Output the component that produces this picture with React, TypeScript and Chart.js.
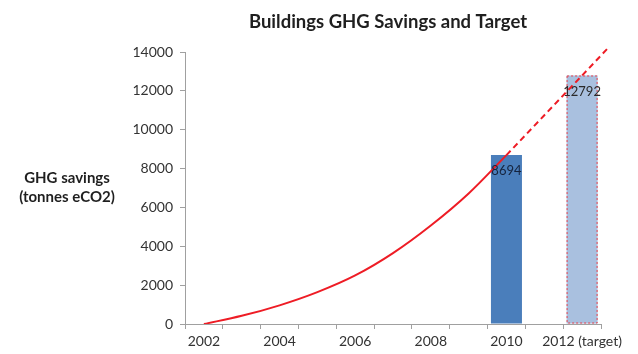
import React, { useEffect, useRef } from 'react';
import { Chart, registerables } from 'chart.js';

Chart.register(...registerables);

const categories = ['2002', '2003', '2004', '2005', '2006', '2007', '2008', '2009', '2010', '2011', '2012 (target)'];
const barValues = [null, null, null, null, null, null, null, null, 8694, null, 12792];
const barColors = ['#4F81BD', '#4F81BD', '#4F81BD', '#4F81BD', '#4F81BD', '#4F81BD', '#4F81BD', '#4F81BD', '#4A7EBB', '#A9C0DF', '#A9C0DF'];
const curveYears = [2002, 2003, 2004, 2005, 2006, 2007, 2008, 2009, 2010];
const curveValues = [0, 420, 960, 1640, 2500, 3650, 5070, 6720, 8694];
const targetYears = [2010, 2012, 2012.66];
const targetValues = [8694, 12792, 14150];
const titleText = 'Buildings GHG Savings and Target';
const yLabelLines = ['GHG savings', '(tonnes eCO2)'];
const yMax = 14000;
const yStep = 2000;

const FONT = 'Lato, "Open Sans", sans-serif';

export default function App() {
  const ref = useRef<HTMLCanvasElement | null>(null);

  useEffect(() => {
    document.body.style.margin = '0';
    const canvas = ref.current;
    if (!canvas) return;

    const textPlugin = {
      id: 'customText',
      afterDraw(chart: any) {
        const ctx = chart.ctx;
        ctx.save();
        ctx.fillStyle = '#1f1f1f';
        ctx.textAlign = 'center';
        ctx.textBaseline = 'middle';
        ctx.font = `bold 18.5px ${FONT}`;
        ctx.fillText(titleText, 388, 22);
        ctx.font = `bold 15px ${FONT}`;
        ctx.fillText(yLabelLines[0], 67, 178);
        ctx.fillText(yLabelLines[1], 67, 197);
        ctx.restore();
      },
      afterDatasetDraw(chart: any, args: any) {
        if (args.index !== 0) return;
        const meta = chart.getDatasetMeta(0);
        const ctx = chart.ctx;
        ctx.save();
        meta.data.forEach((el: any, i: number) => {
          if (barValues[i] == null || i !== barValues.length - 1) return;
          const left = el.x - el.width / 2;
          ctx.strokeStyle = '#E8414A';
          ctx.lineWidth = 1;
          ctx.setLineDash([2, 2]);
          ctx.strokeRect(left + 0.5, el.y + 0.5, el.width - 1, el.base - el.y - 1);
        });
        ctx.restore();
      },
      afterDatasetsDraw(chart: any) {
        const meta = chart.getDatasetMeta(0);
        const ctx = chart.ctx;
        ctx.save();
        ctx.textAlign = 'center';
        ctx.textBaseline = 'middle';
        ctx.font = `13px ${FONT}`;
        meta.data.forEach((el: any, i: number) => {
          const v = barValues[i];
          if (v == null) return;
          ctx.fillStyle = i === barValues.length - 1 ? '#2a2a2a' : '#15233d';
          ctx.fillText(String(v), el.x, el.y + 16);
        });
        ctx.restore();
      },
    };

    const chart = new Chart(canvas, {
      type: 'bar',
      data: {
        labels: categories,
        datasets: [
          {
            type: 'bar',
            xAxisID: 'x',
            yAxisID: 'y',
            data: barValues as any,
            backgroundColor: barColors,
            borderWidth: 0,
            grouped: false,
            categoryPercentage: 1,
            barPercentage: 0.82,
            order: 2,
          } as any,
          {
            type: 'line',
            xAxisID: 'x2',
            yAxisID: 'y',
            data: curveYears.map((x, i) => ({ x, y: curveValues[i] })),
            borderColor: '#EE1C25',
            borderWidth: 2,
            pointRadius: 0,
            cubicInterpolationMode: 'monotone',
            fill: false,
            order: 1,
          } as any,
          {
            type: 'line',
            xAxisID: 'x2',
            yAxisID: 'y',
            data: targetYears.map((x, i) => ({ x, y: targetValues[i] })),
            borderColor: '#EE1C25',
            borderWidth: 2,
            borderDash: [6, 4],
            pointRadius: 0,
            tension: 0,
            fill: false,
            clip: false,
            order: 0,
          } as any,
        ],
      },
      options: {
        animation: false,
        responsive: false,
        maintainAspectRatio: false,
        layout: { padding: { left: 120, right: 37, top: 52, bottom: 0 } },
        plugins: {
          legend: { display: false },
          tooltip: { enabled: false },
          title: { display: false },
        },
        scales: {
          x: {
            type: 'category',
            offset: true,
            grid: { offset: true, drawOnChartArea: false, drawTicks: true, tickLength: 5, color: '#A0A0A0' },
            border: { color: '#A0A0A0' },
            ticks: {
              autoSkip: false,
              maxRotation: 0,
              minRotation: 0,
              padding: 4,
              color: '#333333',
              font: { family: FONT, size: 14 },
              callback: (_v: any, index: number) => (index % 2 === 0 ? categories[index] : ''),
            },
            afterFit: (s: any) => {
              s.height = 30;
            },
          },
          x2: {
            type: 'linear',
            axis: 'x',
            position: 'bottom',
            display: false,
            offset: false,
            bounds: 'data',
            grid: { offset: false },
            min: 2001.5,
            max: 2012.5,
          },
          y: {
            min: 0,
            max: yMax,
            grid: { drawOnChartArea: false, drawTicks: true, tickLength: 5, color: '#A0A0A0' },
            border: { color: '#A0A0A0' },
            ticks: {
              stepSize: yStep,
              padding: 7,
              color: '#333333',
              font: { family: FONT, size: 14 },
              callback: (v: any) => String(v),
            },
            afterFit: (s: any) => {
              s.width = 65;
            },
          },
        },
      } as any,
      plugins: [textPlugin],
    });

    return () => chart.destroy();
  }, []);

  return (
    <div style={{ width: 638, height: 354, background: '#ffffff' }}>
      <canvas ref={ref} width={638} height={354} style={{ display: 'block', width: 638, height: 354 }} />
    </div>
  );
}
